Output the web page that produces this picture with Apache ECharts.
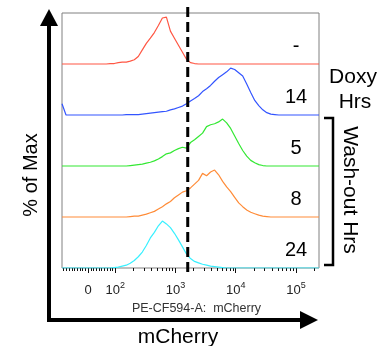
<!DOCTYPE html>
<html><head><meta charset="utf-8">
<script src="https://cdn.jsdelivr.net/npm/echarts@6/dist/echarts.min.js"></script>
<style>html,body{margin:0;padding:0;background:#fff}#c{width:392px;height:346px}</style>
</head><body><div id="c"></div>
<script>
// ---- data ----
const binStep = 4; // histogram channel width (display channels 0..256)
const sampleLabels = ['-', '14', '5', '8', '24'];
const redHist = [0,0,0,0,0,0,0,0,0,0,0,0,1,1,3,4,4,6,9,16,30,44,55,67,82,98,100,70,55,40,25,10,3,1,0,0,0,0,0,0,0,0,0,0,0,0,0,0,0,0,0,0,0,0,0,0,0,0,0,0,0,0,0,0,0];
const blueHist = [24,0,0,0,0,0,0,0,0,0,0,0,0,0,0,0,1,1,1,1,2,3,4,5,6,7,8,11,13,16,19,24,30,35,41,50,56,63,72,80,86,92,100,97,90,83,66,48,31,20,11,5,2,1,0,0,0,0,0,0,0,0,0,0,0];
const greenHist = [0,0,0,0,0,0,0,0,0,0,0,0,0,0,0,0,0,1,2,3,4,6,8,11,15,20,26,28,33,37,40,38,50,56,63,70,84,88,90,94,100,92,80,64,48,33,21,12,7,3,1,0,0,0,0,0,0,0,0,0,0,0,0,0,0];
const orangeHist = [0,0,0,0,0,0,0,0,0,0,0,0,0,0,0,0,0,1,2,2,4,6,9,12,17,22,28,33,41,47,53,56,62,70,78,93,88,96,100,90,76,64,54,42,30,22,15,10,7,4,2,1,0,0,0,0,0,0,0,0,0,0,0,0,0];
const cyanHist = [0,0,0,0,0,0,0,0,0,0,0,0,0,1,2,4,6,10,16,24,34,48,64,76,90,100,94,86,74,60,45,30,20,14,11,8,6,4,3,2,1,0,0,0,0,0,0,0,0,0,0,0,0,0,0,0,0,0,0,0,0,0,0,0,0];
const tickValues = [0, 1e2, 1e3, 1e4, 1e5];
const tickLabels = ['0', '10^2', '10^3', '10^4', '10^5'];
const gateValue = 1600;
const axisTitle = 'PE-CF594-A:  mCherry';

// ---- scale: biexponential-like display transform (intensity -> display channel) ----
function toChannel(v) {
  if (Math.abs(v) <= 100) return 26 + 0.27 * v;
  return 53 + (Math.log10(v) - 2) * 60;
}
const minorValues = [];
for (let v = -90; v <= 90; v += 10) if (v !== 0) minorValues.push(v);
for (let k = 2; k <= 5; k++) for (let m = 2; m <= 9; m++) minorValues.push(m * Math.pow(10, k));
const minorCh = minorValues.map(toChannel).filter(c => c >= 0 && c <= 256);
const majorCh = tickValues.map(toChannel);

const colors = ['#ff5744', '#3355ff', '#33e833', '#ff8c38', '#38f0ff'];
const hists = [redHist, blueHist, greenHist, orangeHist, cyanHist];
const laneCount = hists.length;
const peakFrac = 0.92;
const FONT = '"Liberation Sans", Arial, Helvetica, sans-serif';

const series = hists.map((h, s) => {
  const base = laneCount - 1 - s;
  return {
    type: 'line', xAxisIndex: 0, yAxisIndex: 0, showSymbol: false, silent: true,
    lineStyle: { color: colors[s], width: 1.2 }, z: 3,
    data: h.map((v, i) => [i * binStep, base + v / 100 * peakFrac])
  };
});
series.push({
  type: 'custom', xAxisIndex: 0, yAxisIndex: 0, clip: false, z: 5, silent: true,
  data: [[toChannel(gateValue), 0]],
  renderItem: (params, api) => {
    const t = api.coord([api.value(0), laneCount]);
    const b = api.coord([api.value(0), 0]);
    return { type: 'line', shape: { x1: t[0], y1: t[1] - 6, x2: b[0], y2: b[1] + 5 },
      style: { stroke: '#000', lineWidth: 3, lineDash: [10, 5] } };
  }
});

function labelFmt(val) {
  let idx = 0, best = 1e9;
  majorCh.forEach((c, i) => { const d = Math.abs(c - val); if (d < best) { best = d; idx = i; } });
  const t = tickLabels[idx];
  if (t.indexOf('^') >= 0) { const p = t.split('^'); return '{b|' + p[0] + '}{s|' + p[1] + '}'; }
  return '{b|' + t + '}';
}

const chart = echarts.init(document.getElementById('c'), null, { renderer: 'canvas' });
const option = {
  animation: false,
  backgroundColor: '#fff',
  grid: { left: 62, top: 13, width: 257, height: 255, show: true, borderColor: '#808080', borderWidth: 1, backgroundColor: 'transparent' },
  xAxis: [
    { type: 'value', min: 0, max: 256, position: 'bottom',
      axisLine: { show: false }, splitLine: { show: false },
      axisTick: { show: true, customValues: majorCh, length: 5, lineStyle: { color: '#111', width: 1 } },
      axisLabel: { show: true, customValues: majorCh, margin: 13, formatter: labelFmt,
        rich: { b: { fontSize: 13, color: '#222', fontFamily: FONT, lineHeight: 18 },
                s: { fontSize: 9, color: '#222', fontFamily: FONT, verticalAlign: 'top', lineHeight: 10 } } },
      name: axisTitle, nameLocation: 'middle', nameGap: 34,
      nameTextStyle: { fontSize: 12.5, color: '#333', fontFamily: FONT, padding: [0, 0, 0, 12] } },
    { type: 'value', min: 0, max: 256, position: 'bottom',
      axisLine: { show: false }, splitLine: { show: false },
      axisTick: { show: true, customValues: minorCh, length: 3, lineStyle: { color: '#111', width: 1 } },
      axisLabel: { show: false } }
  ],
  yAxis: { type: 'value', min: 0, max: laneCount, show: false },
  series: series,
  graphic: [
    // axis arrows
    { type: 'polyline', shape: { points: [[49, 24], [49, 320], [302, 320]] }, style: { stroke: '#000', lineWidth: 4, fill: null, lineJoin: 'miter' } },
    { type: 'polygon', shape: { points: [[40, 26], [58, 26], [49, 9]] }, style: { fill: '#000' } },
    { type: 'polygon', shape: { points: [[300, 311], [300, 329], [318, 320]] }, style: { fill: '#000' } },
    { type: 'text', x: 31, y: 175, rotation: Math.PI / 2,
      style: { text: '% of Max', fontSize: 20, fontFamily: FONT, fill: '#000', align: 'center', verticalAlign: 'middle' } },
    { type: 'text', x: 178, y: 337,
      style: { text: 'mCherry', fontSize: 21, fontFamily: FONT, fill: '#000', align: 'center', verticalAlign: 'middle' } },
    // sample labels
    ...sampleLabels.map((t, i) => ({ type: 'text', x: 296, y: 46 + i * 51.2,
      style: { text: t, fontSize: 20, fontFamily: FONT, fill: '#000', align: 'center', verticalAlign: 'middle' } })),
    { type: 'text', x: 353, y: 77, style: { text: 'Doxy', fontSize: 21, fontFamily: FONT, fill: '#000', align: 'center', verticalAlign: 'middle' } },
    { type: 'text', x: 355, y: 102, style: { text: 'Hrs', fontSize: 21, fontFamily: FONT, fill: '#000', align: 'center', verticalAlign: 'middle' } },
    { type: 'polyline', shape: { points: [[324, 118], [333, 118], [333, 265], [324, 265]] }, style: { stroke: '#000', lineWidth: 2.5, fill: null } },
    { type: 'text', x: 350, y: 190, rotation: -Math.PI / 2,
      style: { text: 'Wash-out Hrs', fontSize: 21, fontFamily: FONT, fill: '#000', align: 'center', verticalAlign: 'middle' } }
  ]
};
chart.setOption(option);
</script>
</body></html>
